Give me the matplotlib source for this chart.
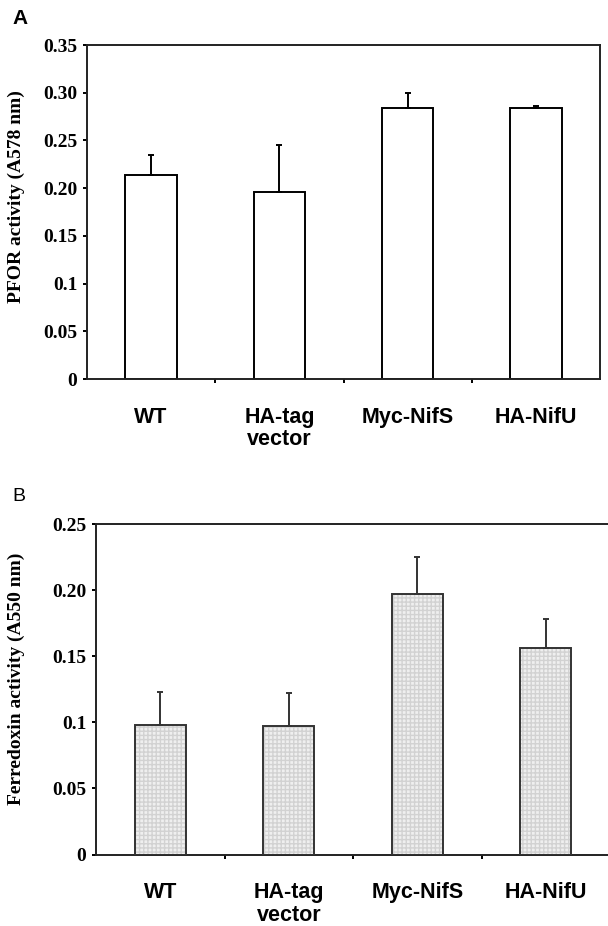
import matplotlib
matplotlib.use('Agg')
import matplotlib.pyplot as plt
import numpy as np

# values
groups = ['WT', 'HA-tag\nvector', 'Myc-NifS', 'HA-NifU']
pfor = [0.214, 0.196, 0.284, 0.284]
pfor_err = [0.021, 0.049, 0.016, 0.0017]
ferredoxin = [0.098, 0.097, 0.197, 0.156]
ferredoxin_err = [0.025, 0.025, 0.028, 0.022]

pfor_ticks = [0, 0.05, 0.1, 0.15, 0.2, 0.25, 0.3, 0.35]
pfor_ticklabels = ['0', '0.05', '0.1', '0.15', '0.20', '0.25', '0.30', '0.35']
fd_ticks = [0, 0.05, 0.1, 0.15, 0.2, 0.25]
fd_ticklabels = ['0', '0.05', '0.1', '0.15', '0.20', '0.25']

serif = 'Liberation Serif'
sans = 'Liberation Sans'
lw = 1.4

fig = plt.figure(figsize=(6.08, 9.26), dpi=100)
ax_a = fig.add_axes([0.1431, 0.5907, 0.8438, 0.3607])
ax_b = fig.add_axes([0.1579, 0.0772, 0.8454, 0.3566])


def style_axis(ax, ticks, ticklabels, ylabel, label_xy):
    x = np.arange(len(groups))
    ax.set_xlim(-0.5, len(groups) - 0.5)
    ax.set_ylim(0, ticks[-1])
    ax.set_yticks(ticks)
    ax.set_yticklabels(ticklabels, fontfamily=serif, fontweight='bold', fontsize=14)
    ax.tick_params(axis='y', direction='out', length=3, width=lw, pad=4)
    ax.set_xticks(x)
    ax.set_xticklabels(groups, fontfamily=sans, fontweight='bold', fontsize=15.5,
                       linespacing=1.1)
    ax.tick_params(axis='x', which='major', length=0, pad=20)
    ax.set_xticks(x[:-1] + 0.5, minor=True)
    ax.tick_params(axis='x', which='minor', direction='out', length=3, width=lw)
    ax.set_ylabel(ylabel, fontfamily=serif, fontweight='bold', fontsize=14)
    ax.yaxis.set_label_coords(*label_xy)
    for s in ax.spines.values():
        s.set_linewidth(lw)
        s.set_color('#222222')


x = np.arange(len(groups))

# panel A: open bars
ax_a.bar(x, pfor, width=0.4, color='white', edgecolor='black', linewidth=lw, zorder=2)
ax_a.errorbar(x, pfor, yerr=[np.zeros(len(pfor)), pfor_err], fmt='none',
              ecolor='black', elinewidth=lw, capsize=2, capthick=lw, zorder=3)
style_axis(ax_a, pfor_ticks, pfor_ticklabels, 'PFOR activity (A578 nm)', (-0.121, 0.545))

# panel B: light dotted-grid bars
ax_b.bar(x, ferredoxin, width=0.4, color='#efefef', edgecolor='#d2d2d2',
         hatch='++++', linewidth=0, zorder=2)
ax_b.bar(x, ferredoxin, width=0.4, fill=False, edgecolor='#333333', linewidth=lw, zorder=3)
ax_b.errorbar(x, ferredoxin, yerr=[np.zeros(len(ferredoxin)), ferredoxin_err], fmt='none',
              ecolor='#333333', elinewidth=lw, capsize=2, capthick=lw, zorder=4)
style_axis(ax_b, fd_ticks, fd_ticklabels, 'Ferredoxin activity (A550 nm)', (-0.138, 0.533))

fig.text(12 / 608, 1 - 24 / 926, 'A', fontfamily=sans, fontweight='bold', fontsize=15)
fig.text(12 / 608, 1 - 501 / 926, 'B', fontfamily=sans, fontsize=14)

fig.savefig('out.png', dpi=100)
